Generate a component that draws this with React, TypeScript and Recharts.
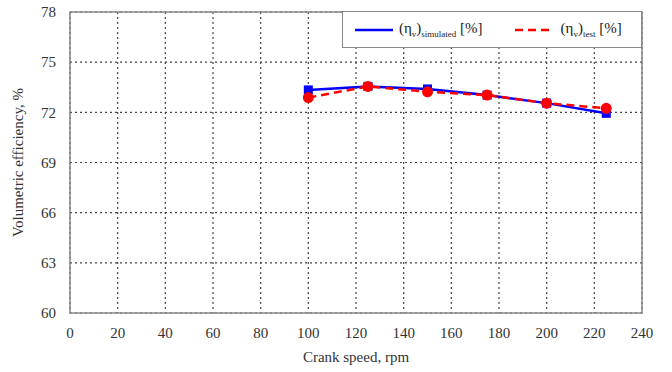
import React from "react";
import {
  LineChart,
  Line,
  XAxis,
  YAxis,
  CartesianGrid,
  ReferenceArea,
} from "recharts";

const crankSpeed = [100, 125, 150, 175, 200, 225];
const simulated = [73.34, 73.55, 73.4, 73.03, 72.55, 71.94];
const test = [72.88, 73.55, 73.23, 73.03, 72.55, 72.24];
const xTicks = [0, 20, 40, 60, 80, 100, 120, 140, 160, 180, 200, 220, 240];
const yTicks = [60, 63, 66, 69, 72, 75, 78];

const data = crankSpeed.map((x, i) => ({ x, sim: simulated[i], test: test[i] }));

const FONT = "'Liberation Serif', 'Times New Roman', Times, 'DejaVu Serif', serif";

const SquareDot = (props: any) => {
  const { cx, cy } = props;
  if (cx == null || cy == null) return null;
  const s = 9;
  return <rect x={cx - s / 2} y={cy - s / 2} width={s} height={s} fill="#0000ff" />;
};

const CircleDot = (props: any) => {
  const { cx, cy } = props;
  if (cx == null || cy == null) return null;
  return <circle cx={cx} cy={cy} r={5.5} fill="#ff0000" />;
};

const LegendBox = () => (
  <div
    style={{
      position: "absolute",
      left: 342,
      top: 11,
      width: 300,
      height: 37,
      border: "1.5px solid #888",
      background: "#fff",
      boxSizing: "border-box",
      display: "flex",
      alignItems: "center",
      fontFamily: FONT,
      fontSize: 15,
      color: "#222",
    }}
  >
    <svg width={44} height={10} style={{ marginLeft: 12 }}>
      <line x1={0} y1={5} x2={38} y2={5} stroke="#0000ff" strokeWidth={2.5} />
    </svg>
    <span>
      (η<sub style={{ fontSize: 9 }}>v</sub>)<sub style={{ fontSize: 9 }}>simulated</sub> [%]
    </span>
    <svg width={46} height={10} style={{ marginLeft: 32 }}>
      <line x1={0} y1={5} x2={38} y2={5} stroke="#ff0000" strokeWidth={2.5} strokeDasharray="8 5" />
    </svg>
    <span>
      (η<sub style={{ fontSize: 9 }}>v</sub>)<sub style={{ fontSize: 9 }}>test</sub> [%]
    </span>
  </div>
);

export default function App() {
  return (
    <div style={{ position: "absolute", left: 0, top: 0, width: 672, height: 372, background: "#fff", fontFamily: FONT }}>
      <LineChart width={672} height={372} data={data} margin={{ top: 12, right: 30, left: 0, bottom: 0 }}>
        <CartesianGrid stroke="#444" strokeDasharray="2 3" strokeWidth={1.2} />
        <XAxis
          dataKey="x"
          type="number"
          domain={[0, 240]}
          ticks={xTicks}
          height={59}
          axisLine={false}
          tickLine={false}
          tick={{ fontFamily: FONT, fontSize: 15, fill: "#333" }}
          tickMargin={8}
          label={{ value: "Crank speed, rpm", position: "insideBottom", offset: 10, style: { fontFamily: FONT, fontSize: 15, fill: "#333" } }}
        />
        <YAxis
          type="number"
          domain={[60, 78]}
          ticks={yTicks}
          width={70}
          axisLine={false}
          tickLine={false}
          tick={{ fontFamily: FONT, fontSize: 15, fill: "#333" }}
          tickMargin={8}
          label={{ value: "Volumetric efficiency, %", angle: -90, position: "insideLeft", offset: 18, style: { fontFamily: FONT, fontSize: 15, fill: "#333", textAnchor: "middle" } }}
        />
        <ReferenceArea x1={0} x2={240} y1={60} y2={78} fill="none" stroke="#888" strokeWidth={1.5} />
        <Line
          dataKey="sim"
          stroke="#0000ff"
          strokeWidth={2.5}
          dot={<SquareDot />}
          activeDot={false}
          isAnimationActive={false}
        />
        <Line
          dataKey="test"
          stroke="#ff0000"
          strokeWidth={2.5}
          strokeDasharray="8 5"
          dot={<CircleDot />}
          activeDot={false}
          isAnimationActive={false}
        />
      </LineChart>
      <LegendBox />
    </div>
  );
}
